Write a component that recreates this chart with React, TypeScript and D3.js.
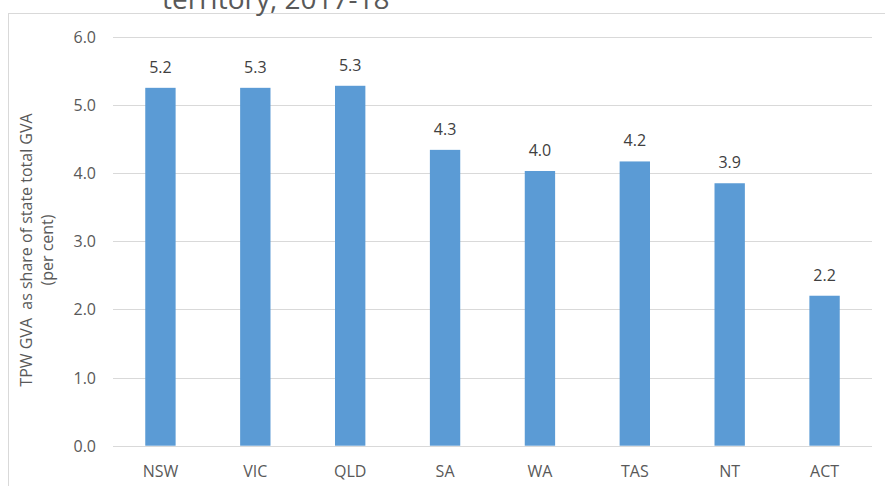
import React from "react";
import * as d3 from "d3";

const categories = ["NSW", "VIC", "QLD", "SA", "WA", "TAS", "NT", "ACT"];
const values = [5.25, 5.25, 5.28, 4.34, 4.03, 4.17, 3.85, 2.2];
const valueLabels = ["5.2", "5.3", "5.3", "4.3", "4.0", "4.2", "3.9", "2.2"];
const yTicks = [0, 1, 2, 3, 4, 5, 6];
const titleText = "territory, 2017-18";
const yTitle1 = "TPW GVA  as share of state total GVA";
const yTitle2 = "(per cent)";

const W = 885;
const H = 486;
const FONT = "'Open Sans', sans-serif";

export default function App() {
  const x = d3
    .scaleBand<string>()
    .domain(categories)
    .range([113, 872])
    .paddingInner(0.68)
    .paddingOuter(0.34);
  const y = d3.scaleLinear().domain([0, 6]).range([445.7, 36.7]);

  return (
    <svg
      width={W}
      height={H}
      style={{ position: "absolute", left: 0, top: 0, display: "block", background: "#fff" }}
      fontFamily={FONT}
    >
      <rect x={0} y={0} width={W} height={H} fill="#fff" />
      <rect x={8.5} y={13.5} width={W + 20} height={H + 20} fill="none" stroke="#D9D9D9" strokeWidth={1} />
      <text x={162} y={9} fontSize={28} fill="#595959">
        {titleText}
      </text>
      {yTicks.map((t) => (
        <g key={t}>
          <line x1={113} x2={872} y1={Math.round(y(t)) + 0.5} y2={Math.round(y(t)) + 0.5} stroke="#D9D9D9" strokeWidth={1} />
          <text x={96} y={y(t) + 6} fontSize={16} fill="#595959" textAnchor="end">
            {d3.format(".1f")(t)}
          </text>
        </g>
      ))}
      {categories.map((c, i) => (
        <g key={c}>
          <rect
            x={x(c)!}
            y={y(values[i])}
            width={x.bandwidth()}
            height={y(0) - y(values[i])}
            fill="#5B9BD5"
          />
          <text
            x={x(c)! + x.bandwidth() / 2}
            y={y(values[i]) - 15}
            fontSize={16}
            fill="#404040"
            textAnchor="middle"
          >
            {valueLabels[i]}
          </text>
          <text x={x(c)! + x.bandwidth() / 2} y={477} fontSize={16} fill="#595959" textAnchor="middle">
            {c}
          </text>
        </g>
      ))}
      <g transform="translate(31.5,250) rotate(-90)">
        <text x={0} y={0} fontSize={16} fill="#595959" textAnchor="middle" style={{ whiteSpace: "pre" }}>
          {yTitle1}
        </text>
        <text x={0} y={21.5} fontSize={16} fill="#595959" textAnchor="middle">
          {yTitle2}
        </text>
      </g>
    </svg>
  );
}
